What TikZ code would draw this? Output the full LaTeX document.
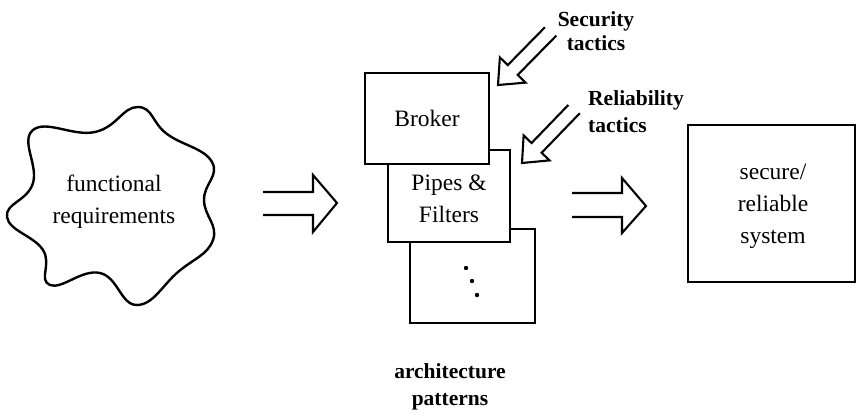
\documentclass[tikz,border=0pt]{standalone}
\usepackage{fontspec}
\setmainfont{Liberation Serif}
\begin{document}
\begin{tikzpicture}[x=1pt,y=-1pt,
  boxst/.style={draw=black, fill=white, line width=2.3pt},
  hollow/.style={draw=black, line width=2.1pt, line join=miter},
  txt/.style={font=\fontsize{23.5}{32.5}\selectfont, align=center, inner sep=0pt},
  lbl/.style={font=\fontsize{21.5}{25}\selectfont\bfseries, inner sep=0pt}]
\useasboundingbox (0,0) rectangle (856,412);
\fill[white] (0,0) rectangle (856,412);

% cloud
\draw[line width=2.4pt] plot[smooth cycle, tension=0.75] coordinates {
  (138,107) (167,134) (212,162) (204,200) (213,240) (178,272)
  (137,305) (100,273) (50,285) (43,250) (7,217) (33,183)
  (33,130) (95,132)};
\node[txt] (fr) at (114,201.5) {functional\\requirements};

% boxes
\node[boxst, minimum width=125pt, minimum height=94pt] (dots) at (472.5,276) {};
\node[boxst, minimum width=122pt, minimum height=92pt] (pf) at (449,196) {};
\node[boxst, minimum width=124pt, minimum height=91pt] (br) at (427,118.5) {};
\node[txt] (brt) at (br.center) {Broker};
\node[txt] (pft) at (449,199) {Pipes \&\\Filters};
\fill (466,268) circle (2.2pt) (472,281) circle (2.2pt) (477,295) circle (2.2pt);
\node[lbl, align=center, font=\fontsize{21.5}{27}\selectfont\bfseries] (ap) at (450,386.5) {architecture\\patterns};

\node[boxst, minimum width=167pt, minimum height=157pt] (sys) at (771.5,203.5) {};
\node[txt, font=\fontsize{23.5}{32}\selectfont] (syst) at (773,206) {secure/\\reliable\\system};

% horizontal hollow arrows
\coordinate (la) at (263,205);
\coordinate (ra) at (572,205);
\draw[hollow] ([shift={(0,-13)}]la) -- ++(50,0) -- ++(0,-17) -- ++(24,28) -- ++(-24,29) -- ++(0,-17) -- ++(-50,0);
\draw[hollow] ([shift={(0,-12)}]ra) -- ++(50,0) -- ++(0,-15) -- ++(24,28) -- ++(-24,27) -- ++(0,-16) -- ++(-50,0);

% diagonal hollow arrows
\coordinate (st) at (498,85);
\coordinate (rt) at (522,163);
\begin{scope}[shift={(st)}, rotate=45.5]
  \draw[hollow] (76,7) -- (21,7) -- (21,18) -- (0,0) -- (21,-18) -- (21,-7) -- (74,-7);
\end{scope}
\begin{scope}[shift={(rt)}, rotate=46]
  \draw[hollow] (76,7) -- (21,7) -- (21,18) -- (0,0) -- (21,-18) -- (21,-7) -- (74,-7);
\end{scope}

\node[lbl, align=center, font=\fontsize{21.5}{23.5}\selectfont\bfseries] (sec) at (596,31) {Security\\tactics};
\node[lbl, align=left, anchor=west, font=\fontsize{21.5}{27}\selectfont\bfseries] (rel) at (588,111.5) {Reliability\\tactics};
\end{tikzpicture}
\end{document}
